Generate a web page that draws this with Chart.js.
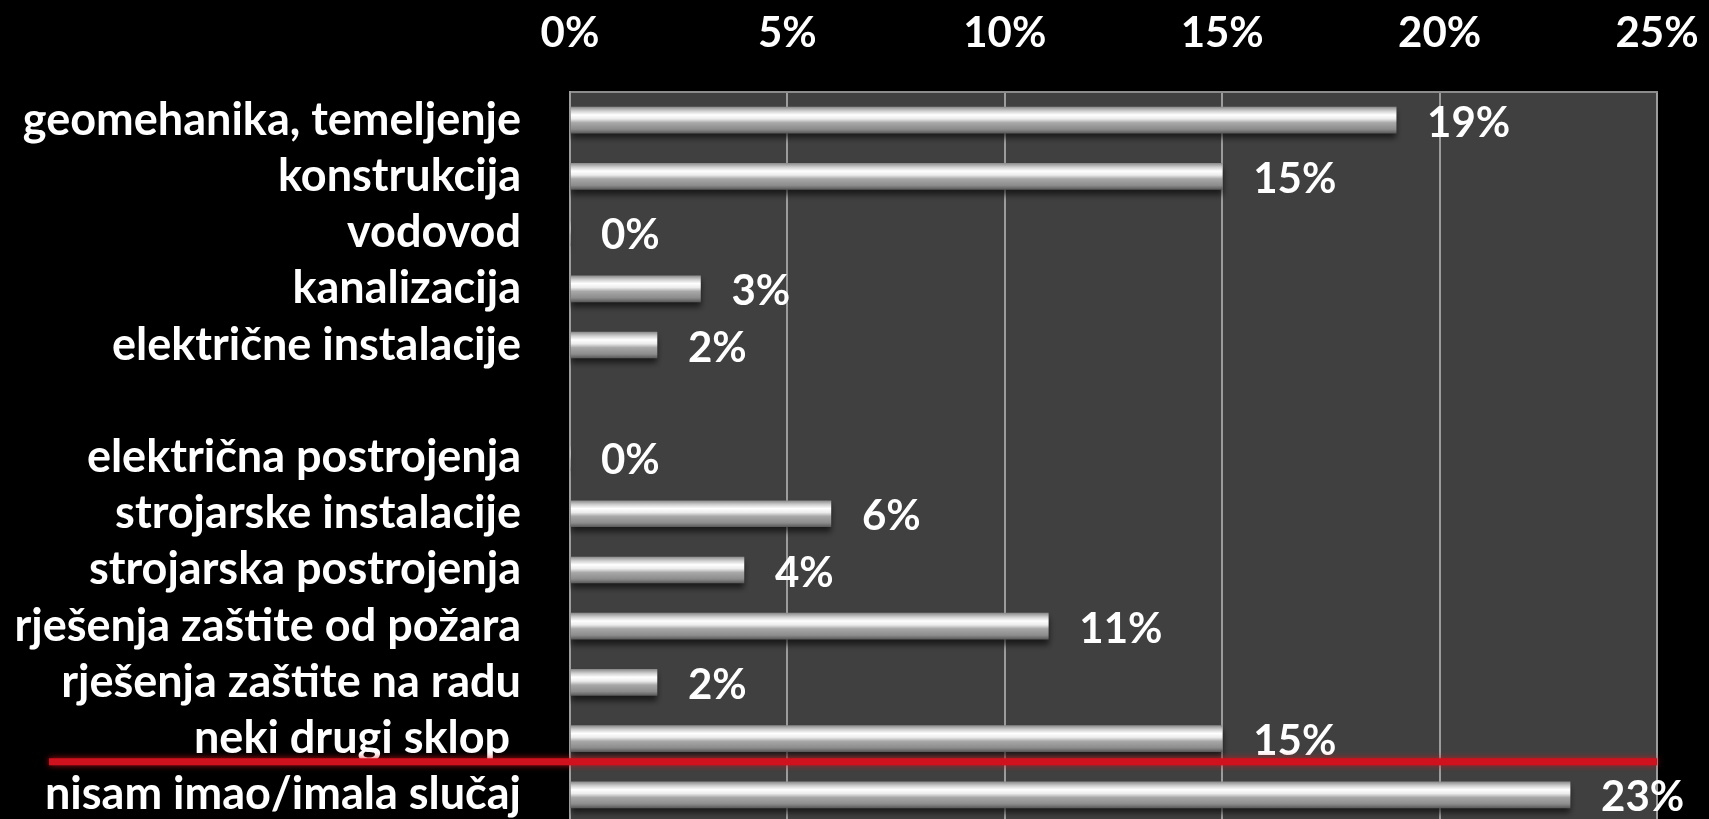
<!DOCTYPE html>
<html>
<head>
<meta charset="utf-8">
<script src="https://cdn.jsdelivr.net/npm/chart.js@4.4.1/dist/chart.umd.min.js"></script>
<style>
  html, body { margin: 0; padding: 0; background: #000; overflow: hidden; }
</style>
</head>
<body>
<canvas id="chart" width="1709" height="830"></canvas>
<script>
// podaci s grafikona
const categories = [
    'geomehanika, temeljenje',
    'konstrukcija',
    'vodovod',
    'kanalizacija',
    'električne instalacije',
    '',
    'električna postrojenja',
    'strojarske instalacije',
    'strojarska postrojenja',
    'rješenja zaštite od požara',
    'rješenja zaštite na radu',
    'neki drugi sklop ',
    'nisam imao/imala slučaj'
];
const values = [19, 15, 0, 3, 2, null, 0, 6, 4, 11, 2, 15, 23];
const xTicks = [0, 5, 10, 15, 20, 25];

const FONT = "Lato, 'Open Sans', sans-serif";
const BAR_H = 26;

// pozadina i siva ploha grafikona
const backgroundPlugin = {
    id: 'background',
    beforeDraw(chart) {
        const { ctx, chartArea } = chart;
        ctx.save();
        ctx.fillStyle = '#000';
        ctx.fillRect(0, 0, chart.width, chart.height);
        ctx.fillStyle = '#404040';
        ctx.fillRect(chartArea.left, chartArea.top, chartArea.right - chartArea.left, chartArea.bottom - chartArea.top);
        ctx.restore();
    }
};

// sjena ispod stupaca
const shadowPlugin = {
    id: 'barShadow',
    beforeDatasetsDraw(chart) {
        const ctx = chart.ctx;
        ctx.save();
        ctx.shadowColor = 'rgba(0,0,0,0.6)';
        ctx.shadowBlur = 6;
        ctx.shadowOffsetY = 5;
    },
    afterDatasetsDraw(chart) {
        chart.ctx.restore();
    }
};

// postoci desno od stupaca
const valueLabels = {
    id: 'valueLabels',
    afterDatasetsDraw(chart) {
        const ctx = chart.ctx;
        const meta = chart.getDatasetMeta(0);
        ctx.save();
        ctx.fillStyle = '#fff';
        ctx.font = 'bold 42px ' + FONT;
        ctx.textAlign = 'left';
        ctx.textBaseline = 'middle';
        meta.data.forEach((bar, i) => {
            if (values[i] === null) return;
            ctx.fillText(values[i] + '%', bar.x + 31, bar.y + 3);
        });
        ctx.restore();
    }
};

// crvena linija izmedu zadnja dva reda
const redLine = {
    id: 'redLine',
    afterDraw(chart) {
        const ctx = chart.ctx;
        const y = chart.scales.y;
        const py = (y.getPixelForValue(11) + y.getPixelForValue(12)) / 2 - 5;
        ctx.save();
        ctx.strokeStyle = '#d0121e';
        ctx.lineWidth = 7;
        ctx.shadowColor = 'rgba(220,20,30,0.8)';
        ctx.shadowBlur = 6;
        ctx.beginPath();
        ctx.moveTo(49, py);
        ctx.lineTo(chart.chartArea.right, py);
        ctx.stroke();
        ctx.restore();
    }
};

function barGradient(context) {
    const chart = context.chart;
    if (!chart.chartArea || context.type !== 'data') return '#cccccc';
    const y = chart.scales.y.getPixelForValue(context.dataIndex);
    const g = chart.ctx.createLinearGradient(0, y - BAR_H / 2, 0, y + BAR_H / 2);
    g.addColorStop(0, '#8e8e8e');
    g.addColorStop(0.15, '#d0d0d0');
    g.addColorStop(0.3, '#ffffff');
    g.addColorStop(0.45, '#ececec');
    g.addColorStop(0.6, '#a8a8a8');
    g.addColorStop(0.85, '#8c8c8c');
    g.addColorStop(1, '#5c5c5c');
    return g;
}

new Chart(document.getElementById('chart'), {
    type: 'bar',
    data: {
        labels: categories,
        datasets: [{
            data: values,
            backgroundColor: barGradient,
            borderWidth: 0,
            barThickness: BAR_H
        }]
    },
    options: {
        indexAxis: 'y',
        responsive: false,
        animation: false,
        layout: { padding: { top: 0, right: 52, bottom: 7, left: 0 } },
        plugins: {
            legend: { display: false },
            tooltip: { enabled: false }
        },
        scales: {
            x: {
                position: 'top',
                min: 0,
                max: 25,
                afterBuildTicks: scale => {
                    scale.ticks = xTicks.map(v => ({ value: v }));
                },
                afterFit: scale => {
                    scale.height = 92;
                    scale.paddingLeft = 0;
                    scale.paddingRight = 0;
                },
                ticks: {
                    color: '#fff',
                    padding: 33,
                    maxRotation: 0,
                    font: { family: FONT, size: 42, weight: 'bold' },
                    callback: v => v + '%'
                },
                grid: { color: '#9c9c9c', lineWidth: 2, drawTicks: false },
                border: { color: '#8c8c8c', width: 2 }
            },
            y: {
                afterFit: scale => {
                    scale.width = 570;
                    scale.paddingTop = 0;
                    scale.paddingBottom = 0;
                },
                ticks: {
                    color: '#fff',
                    padding: 49,
                    autoSkip: false,
                    font: { family: FONT, size: 45, weight: 'bold' }
                },
                grid: { display: false, drawTicks: false },
                border: { color: '#9c9c9c', width: 2 }
            }
        }
    },
    plugins: [backgroundPlugin, shadowPlugin, valueLabels, redLine]
});
</script>
</body>
</html>
